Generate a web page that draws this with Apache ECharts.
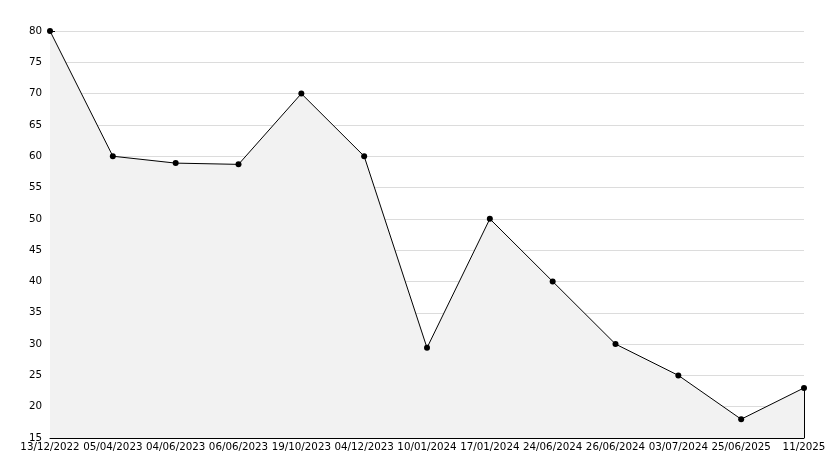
<!DOCTYPE html>
<html><head><meta charset="utf-8">
<script src="https://cdn.jsdelivr.net/npm/echarts@6/dist/echarts.min.js"></script>
<style>html,body{margin:0;padding:0;background:#fff}#c{width:834px;height:468px}</style>
</head><body><div id="c"></div>
<script>
const categories = ['13/12/2022','05/04/2023','04/06/2023','06/06/2023','19/10/2023','04/12/2023','10/01/2024','17/01/2024','24/06/2024','26/06/2024','03/07/2024','25/06/2025','11/2025'];
const values = [80, 60, 58.9, 58.7, 70, 60, 29.4, 50, 40, 30, 25, 18, 23];
const yMin = 15, yMax = 80, yStep = 5;

const chart = echarts.init(document.getElementById('c'), null, {renderer:'canvas'});
const font = {fontFamily:'DejaVu Sans', fontSize:10.3, color:'#000'};
const last = categories.length - 1;
chart.setOption({
  animation:false,
  backgroundColor:'#fff',
  grid:{left:50, right:30, top:31, bottom:30, containLabel:false},
  xAxis:{
    type:'category', data:categories, boundaryGap:false,
    axisLine:{lineStyle:{color:'#000', width:1}},
    axisTick:{inside:true, length:5, alignWithLabel:true, interval:0, lineStyle:{color:'#000'}},
    axisLabel:Object.assign({interval:0, margin:4}, font),
    splitLine:{show:false}
  },
  yAxis:{
    type:'value', min:yMin, max:yMax, interval:yStep,
    axisLine:{show:true, lineStyle:{color:'#000', width:1}},
    axisTick:{show:true, inside:true, length:5, lineStyle:{color:'#000'}},
    minorTick:{show:true, splitNumber:5, length:3, lineStyle:{color:'#000'}},
    axisLabel:Object.assign({margin:8}, font),
    splitLine:{show:true, lineStyle:{color:'#dcdcdc', width:1}}
  },
  series:[{
    type:'line', data:values,
    symbol:'circle', symbolSize:6,
    itemStyle:{color:'#000'},
    lineStyle:{color:'#000', width:1},
    areaStyle:{color:'#f2f2f2', opacity:1},
    markLine:{
      silent:true, symbol:'none', label:{show:false},
      lineStyle:{color:'#000', width:1, type:'solid'},
      data:[[{coord:[categories[last], yMin]},{coord:[categories[last], values[last]]}]]
    }
  }]
});
</script></body></html>
